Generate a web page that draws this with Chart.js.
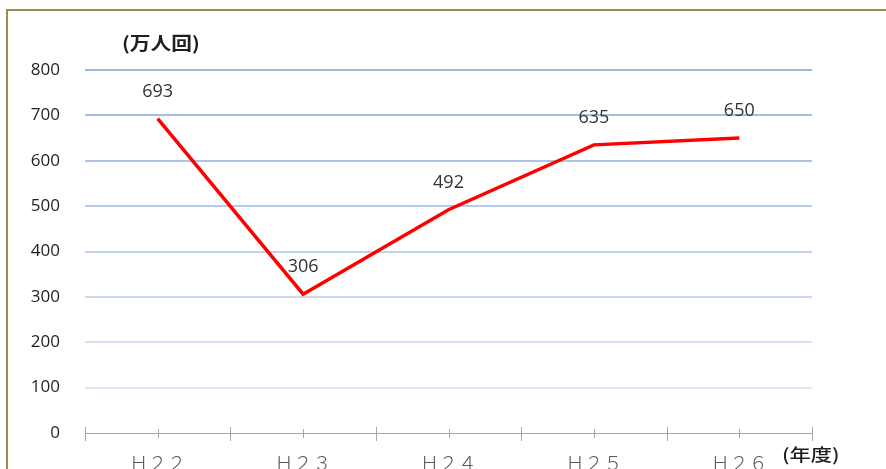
<!DOCTYPE html>
<html>
<head>
<meta charset="utf-8">
<script src="https://cdn.jsdelivr.net/npm/chart.js@4/dist/chart.umd.min.js"></script>
<style>
  html, body { margin: 0; padding: 0; background: #ffffff; }
  #wrap { position: relative; width: 886px; height: 469px; overflow: hidden; }
  #frame { position: absolute; left: 6px; top: 9px; width: 1000px; height: 600px;
           border-left: 2px solid #998c52; border-top: 2px solid #998c52; pointer-events: none; }
  canvas { position: absolute; left: 0; top: 0; }
</style>
</head>
<body>
<div id="wrap">
  <div id="frame"></div>
  <canvas id="c" width="886" height="469"></canvas>
</div>
<script>
// 年度別 利用者数（万人回）
const years = ['Ｈ２２', 'Ｈ２３', 'Ｈ２４', 'Ｈ２５', 'Ｈ２６'];
const visitors = [693, 306, 492, 635, 650];
const yTicks = [0, 100, 200, 300, 400, 500, 600, 700, 800];
const unitLabel = '(万人回)';
const yearLabel = '(年度)';

// horizontal grid colour fades from the top line to the bottom line
function gridColor(v) {
  if (v === 0) return 'rgba(0,0,0,0)';
  const top = [157, 181, 225], bottom = [221, 231, 246];
  const t = (800 - v) / 700;
  const c = top.map((a, i) => Math.round(a + (bottom[i] - a) * t));
  return `rgb(${c[0]},${c[1]},${c[2]})`;
}

// x axis line with crossing tick marks (boundaries and category centres)
const axisMarks = {
  id: 'axisMarks',
  afterDatasetsDraw(chart) {
    const { ctx } = chart;
    const xs = chart.scales.x, ys = chart.scales.y;
    const y0 = ys.getPixelForValue(0);
    const n = years.length;
    const w = (xs.right - xs.left) / n;
    ctx.save();
    ctx.strokeStyle = '#a6a6a6';
    ctx.lineWidth = 1;
    ctx.beginPath();
    ctx.moveTo(xs.left, y0 + 0.5);
    ctx.lineTo(xs.right, y0 + 0.5);
    for (let i = 0; i <= n; i++) {
      const x = Math.round(xs.left + i * w) + 0.5;
      ctx.moveTo(x, y0 - 6);
      ctx.lineTo(x, y0 + 8);
    }
    for (let i = 0; i < n; i++) {
      const x = Math.round(xs.getPixelForValue(i)) + 0.5;
      ctx.moveTo(x, y0 - 4);
      ctx.lineTo(x, y0 + 5);
    }
    ctx.stroke();
    ctx.restore();
  }
};

// draw text squeezed/stretched horizontally
function wideText(ctx, text, x, y, sx) {
  ctx.save();
  ctx.translate(x, y);
  ctx.scale(sx, 1);
  ctx.fillText(text, 0, 0);
  ctx.restore();
}

// value labels above each point, plus unit captions
const valueLabels = {
  id: 'valueLabels',
  afterDatasetsDraw(chart) {
    const { ctx } = chart;
    const meta = chart.getDatasetMeta(0);
    ctx.save();
    ctx.font = '18px "Open Sans"';
    ctx.fillStyle = '#333333';
    ctx.textAlign = 'center';
    ctx.textBaseline = 'middle';
    meta.data.forEach((pt, i) => {
      ctx.fillText(String(visitors[i]), pt.x, pt.y - 27);
    });

    ctx.textAlign = 'left';
    ctx.font = 'bold 18px "Noto Sans CJK JP"';
    ctx.fillStyle = '#1f1f1f';
    wideText(ctx, unitLabel, 122, 43, 1.15);

    ctx.font = '500 17px "Noto Sans CJK JP"';
    ctx.fillStyle = '#1f1f1f';
    wideText(ctx, yearLabel, 782, 455, 1.25);
    ctx.restore();
  }
};

new Chart(document.getElementById('c'), {
  type: 'line',
  data: {
    labels: years,
    datasets: [{
      data: visitors,
      borderColor: '#ff0000',
      borderWidth: 3.5,
      pointRadius: 0,
      pointHoverRadius: 0,
      tension: 0,
      fill: false
    }]
  },
  options: {
    responsive: false,
    animation: false,
    events: [],
    layout: { padding: { left: 0, top: 70, right: 74, bottom: 0 } },
    plugins: { legend: { display: false }, tooltip: { enabled: false } },
    scales: {
      x: {
        offset: true,
        border: { display: false },
        grid: { display: false, offset: true },
        ticks: {
          color: '#595959',
          font: { family: '"Noto Sans CJK JP"', size: 19, weight: 300 },
          padding: 10,
          maxRotation: 0
        },
        afterFit(scale) { scale.height = 36; }
      },
      y: {
        min: 0,
        max: 800,
        afterBuildTicks(scale) { scale.ticks = yTicks.map(v => ({ value: v })); },
        border: { display: false },
        grid: {
          drawTicks: false,
          lineWidth: 2,
          color: ctx => gridColor(ctx.tick.value)
        },
        ticks: {
          color: '#1f1f1f',
          font: { family: '"Open Sans"', size: 17 },
          padding: 25
        },
        afterFit(scale) { scale.width = 85; }
      }
    }
  },
  plugins: [axisMarks, valueLabels]
});
</script>
</body>
</html>
